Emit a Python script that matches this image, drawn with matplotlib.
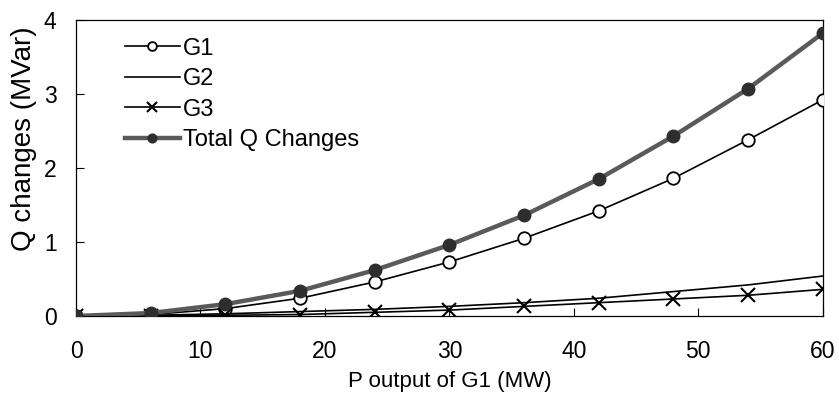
import matplotlib
matplotlib.use('Agg')
import matplotlib.pyplot as plt

# data
p_out = [0, 6, 12, 18, 24, 30, 36, 42, 48, 54, 60]
q_g1 = [0, 0.02, 0.10, 0.24, 0.46, 0.73, 1.05, 1.42, 1.86, 2.38, 2.92]
q_g2 = [0, 0.01, 0.03, 0.06, 0.09, 0.13, 0.18, 0.24, 0.33, 0.42, 0.54]
q_g3 = [0, 0.0, 0.01, 0.02, 0.05, 0.08, 0.13, 0.18, 0.23, 0.28, 0.36]
q_total = [0, 0.04, 0.16, 0.34, 0.62, 0.96, 1.36, 1.85, 2.43, 3.07, 3.82]
x_ticks = [0, 10, 20, 30, 40, 50, 60]
y_ticks = [0, 1, 2, 3, 4]


def main():
    plt.rcParams['font.family'] = ['Liberation Sans', 'DejaVu Sans']

    fig = plt.figure(figsize=(8.39, 3.98), dpi=100)
    ax = fig.add_axes([0.0906, 0.206, 0.890, 0.744])

    ax.plot(p_out, q_g1, color='black', lw=1.2, marker='o', ms=9,
            mfc='white', mec='black', mew=1.3, label='G1', zorder=3)
    ax.plot(p_out, q_g2, color='black', lw=1.2, label='G2', zorder=3)
    ax.plot(p_out, q_g3, color='black', lw=1.2, marker='x', ms=10,
            mew=1.5, label='G3', zorder=3)
    ax.plot(p_out, q_total, color='#5a5a5a', lw=3.2, marker='o', ms=9,
            mfc='#2e2e2e', mec='#2e2e2e', label='Total Q Changes', zorder=4)

    ax.set_xlim(0, 60)
    ax.set_ylim(0, 4)
    ax.set_xticks(x_ticks)
    ax.set_yticks(y_ticks)
    ax.tick_params(direction='in', length=6, labelsize=16.5)
    ax.tick_params(axis='x', pad=17)
    ax.tick_params(axis='y', pad=14)
    for s in ax.spines.values():
        s.set_linewidth(0.9)

    ax.set_xlabel('P output of G1 (MW)', fontsize=16, labelpad=6)
    ax.set_ylabel('Q changes (MVar)', fontsize=20)
    ax.yaxis.set_label_coords(-0.052, 0.60)

    ax.legend(loc='upper left', bbox_to_anchor=(0.066, 0.94), frameon=False,
              fontsize=17, handlelength=2.3, handletextpad=0.15,
              labelspacing=0.36, borderpad=0, borderaxespad=0,
              markerscale=0.7)

    fig.savefig('out.png', dpi=100)


if __name__ == "__main__":
    main()
